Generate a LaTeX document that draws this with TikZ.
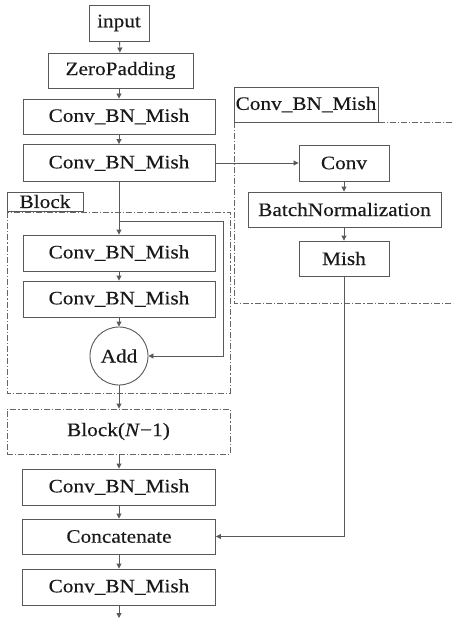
\documentclass[tikz,border=0pt]{standalone}
\usepackage{fontspec}
\setmainfont{Liberation Serif}[FakeStretch=1.12,FakeBold=0.4]
\usetikzlibrary{arrows.meta}
\begin{document}
\begin{tikzpicture}[x=1pt,y=-1pt,
  line/.style={draw=black!65, line width=0.9pt},
  arr/.style={line, -{Triangle[length=5pt,width=5pt]}},
  box/.style={line, rectangle, inner sep=0pt, font=\fontsize{19}{21}\selectfont, text=black!90},
  dd/.style={draw=black!60, line width=0.9pt, dash pattern=on 6pt off 2pt on 1.2pt off 2pt}]
\useasboundingbox (0,0) rectangle (453,623);
\begin{scope}
\clip (0,0) rectangle (453,623);
% dashed containers
\draw[dd] (7,212) rectangle (230,393);
\draw[dd] (234,122) rectangle (470,303);
\end{scope}
% labels of containers
\node[box, minimum width=76pt, minimum height=19pt] (blocklab) at (45,201.5) {Block};
\node[box, minimum width=144pt, minimum height=35pt] (cbmlab) at (306,104.5) {Conv\_BN\_Mish};
% main column
\node[box, minimum width=60pt, minimum height=36pt] (input) at (119,23) {input};
\node[box, minimum width=145pt, minimum height=35pt] (zp) at (120.5,70.5) {ZeroPadding};
\node[box, minimum width=192pt, minimum height=35pt] (c1) at (119,116.5) {Conv\_BN\_Mish};
\node[box, minimum width=192pt, minimum height=37pt] (c2) at (119,163) {Conv\_BN\_Mish};
\node[box, minimum width=192pt, minimum height=36pt] (c3) at (119,253) {Conv\_BN\_Mish};
\node[box, minimum width=192pt, minimum height=36pt] (c4) at (119,299) {Conv\_BN\_Mish};
\node[box, circle, minimum size=58pt] (add) at (119,356) {Add};
\node[box, dd, minimum width=223pt, minimum height=45pt] (blkn) at (118.5,431.5) {Block(\textit{N}−1)};
\node[box, minimum width=193pt, minimum height=36pt] (c5) at (119,487) {Conv\_BN\_Mish};
\node[box, minimum width=193pt, minimum height=35pt] (cat) at (119,536.5) {Concatenate};
\node[box, minimum width=193pt, minimum height=36pt] (c6) at (119,587) {Conv\_BN\_Mish};
\coordinate (out) at (119,618);
% right column
\node[box, minimum width=90pt, minimum height=36pt] (conv) at (344,163) {Conv};
\node[box, minimum width=193pt, minimum height=35pt] (bn) at (344.5,209.5) {BatchNormalization};
\node[box, minimum width=90pt, minimum height=35pt] (mish) at (344,258.5) {Mish};
% connectors
\draw[arr] (input) -- (zp);
\draw[arr] (zp.south -| input) -- (c1.north -| input);
\draw[arr] (c1) -- (c2);
\draw[arr] (c2) -- (c3);
\coordinate (br) at (119,221);
\coordinate (brc) at (223,221);
\draw[arr] (br) -- (brc) |- (add.east);
\draw[arr] (c3) -- (c4);
\draw[arr] (c4) -- (add);
\draw[arr] (add) -- (add.south |- blkn.north);
\draw[arr] (blkn.south -| c5) -- (c5);
\draw[arr] (c5) -- (cat);
\draw[arr] (cat) -- (c6);
\draw[arr] (c6) -- (out);
\draw[arr] (c2) -- (conv);
\draw[arr] (conv) -- (conv |- bn.north);
\draw[arr] (bn.south -| mish) -- (mish);
\draw[arr] (mish) |- (cat);
\end{tikzpicture}
\end{document}
